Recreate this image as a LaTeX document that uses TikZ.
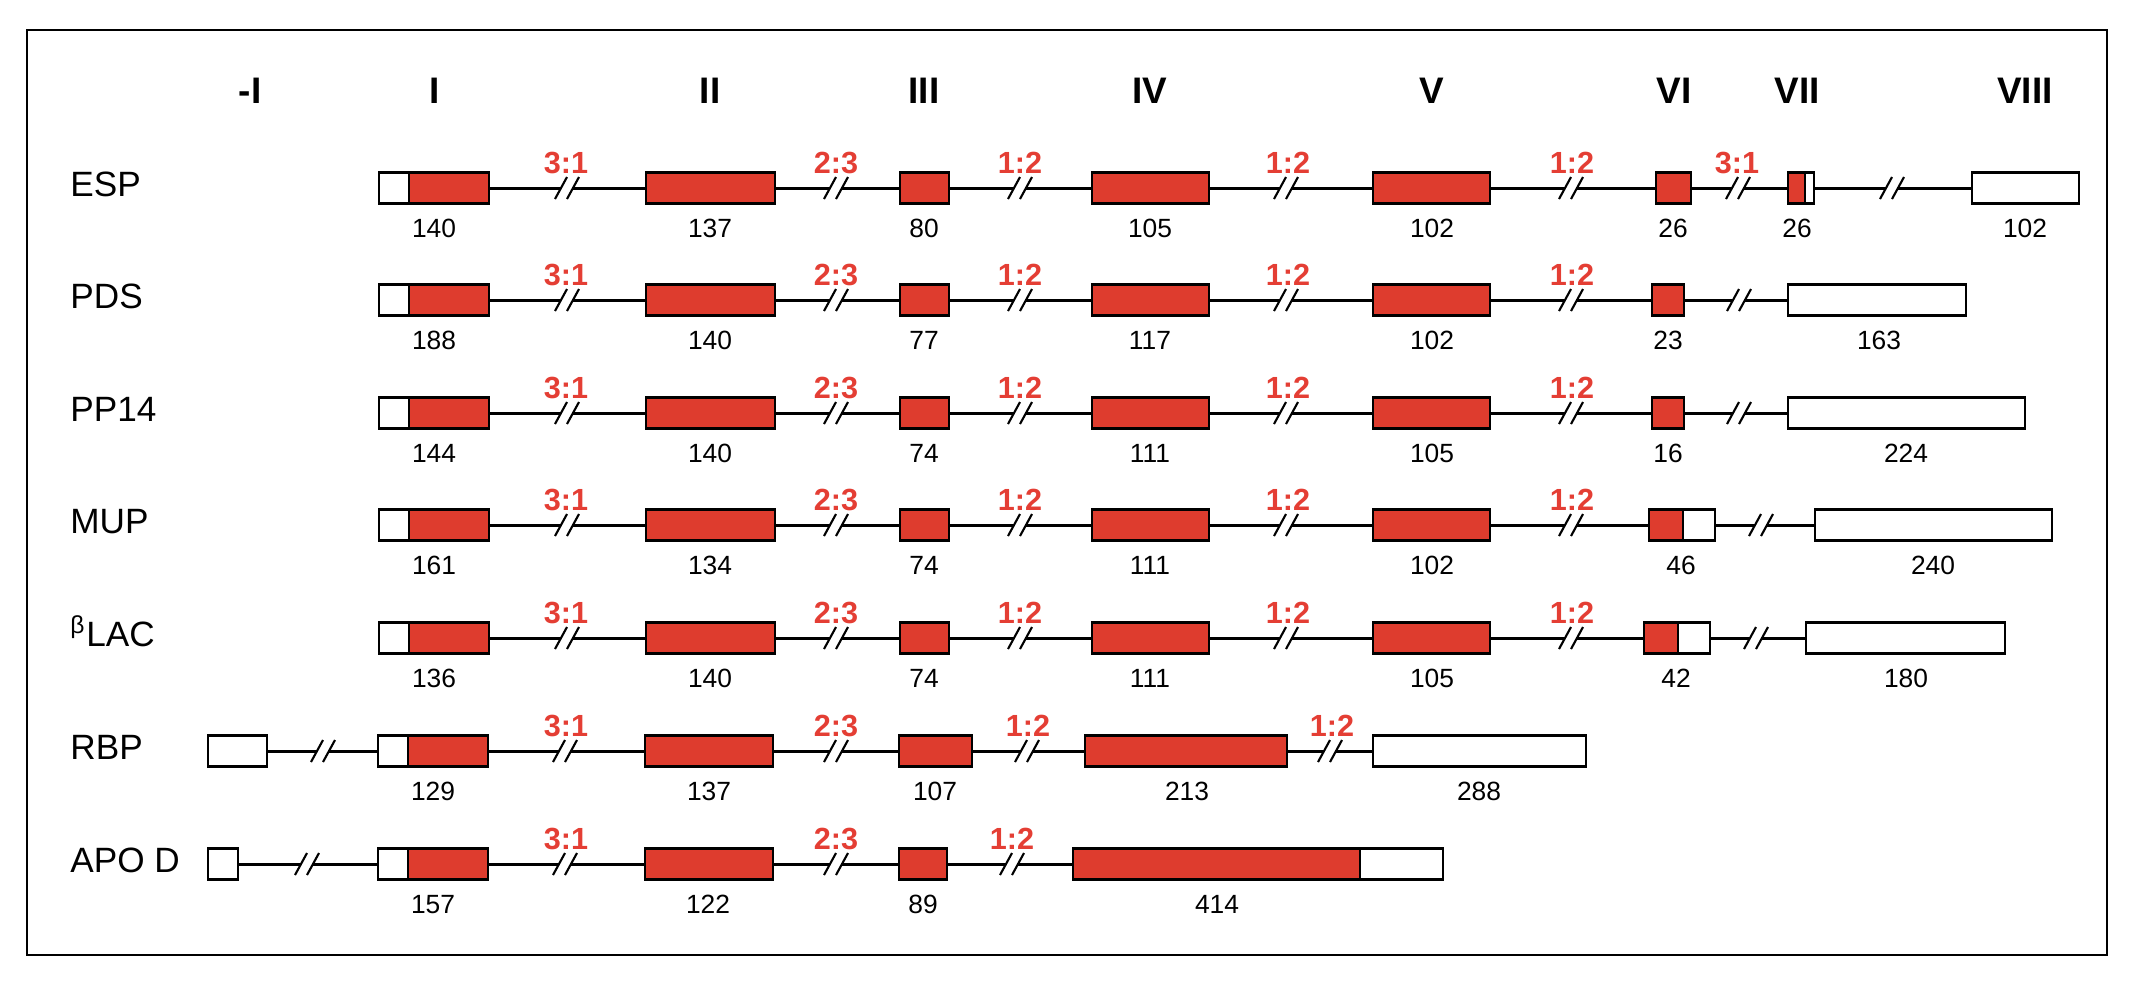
\documentclass[tikz,border=0pt]{standalone}
\usepackage{fontspec}
\setmainfont{Liberation Sans}
\usetikzlibrary{positioning}
\definecolor{exonred}{RGB}{222,60,46}
\definecolor{ratiored}{RGB}{228,62,52}
\begin{document}
\begin{tikzpicture}[x=0.01cm, y=-0.01cm,
  exon/.style={draw, fill=exonred, line width=0.7pt, minimum height=0.31cm, inner sep=0pt, outer sep=0pt},
  utr/.style={exon, fill=white},
  intron/.style={line width=0.85pt},
  gene/.style={anchor=base west, font=\fontsize{10}{12}\selectfont},
  numeral/.style={anchor=base, font=\bfseries\fontsize{10.5}{12}\selectfont},
  ratio/.style={anchor=base, text=ratiored, font=\bfseries\fontsize{8.7}{10}\selectfont},
  bp/.style={anchor=base, font=\fontsize{7.5}{9}\selectfont},
  brk/.pic={
    \fill[white] (-12,11) -- (0,-11) -- (12,-11) -- (0,11) -- cycle;
    \draw[line width=0.6pt] (-12,11) -- (0,-11) (0,11) -- (12,-11);
  }]
\useasboundingbox (0,0) rectangle (2136,996);

% The frame
\draw[line width=0.6pt] (27,30) rectangle (2107,955);

% Exon numbers
\node[numeral] (h0) at (250,103) {-I};
\node[numeral] (h1) at (435,103) {I};
\node[numeral] (h2) at (710,103) {II};
\node[numeral] (h3) at (924,103) {III};
\node[numeral] (h4) at (1150,103) {IV};
\node[numeral] (h5) at (1432,103) {V};
\node[numeral] (h6) at (1674,103) {VI};
\node[numeral] (h7) at (1797,103) {VII};
\node[numeral] (h8) at (2025,103) {VIII};

% ESP
\node[gene] (esp) at (58,196) {ESP};
\node[utr, minimum width=0.30cm] (esp1u) at (394,188) {};
\node[exon, minimum width=0.80cm, right=0pt of esp1u] (esp1) {};
\node[exon, minimum width=1.29cm] (esp2) at (710.5,188) {};
\node[exon, minimum width=0.49cm] (esp3) at (924.5,188) {};
\node[exon, minimum width=1.17cm] (esp4) at (1150.5,188) {};
\node[exon, minimum width=1.17cm] (esp5) at (1431.5,188) {};
\node[exon, minimum width=0.35cm] (esp6) at (1673.5,188) {};
\node[exon, minimum width=0.17cm] (esp7) at (1796.5,188) {};
\node[utr, minimum width=0.09cm, right=0pt of esp7] (esp7u) {};
\node[utr, minimum width=1.07cm] (esp8) at (2025.5,188) {};
\draw[intron] (esp1) -- (esp2) (esp2) -- (esp3) (esp3) -- (esp4) (esp4) -- (esp5)
  (esp5) -- (esp6) (esp6) -- (esp7) (esp7u) -- (esp8);
\pic at (567,188) {brk};
\pic at (836,188) {brk};
\pic at (1020,188) {brk};
\pic at (1286,188) {brk};
\pic at (1571,188) {brk};
\pic at (1738,188) {brk};
\pic at (1892,188) {brk};
\node[ratio] (esp-r1) at (566,173) {3:1};
\node[ratio] (esp-r2) at (836,173) {2:3};
\node[ratio] (esp-r3) at (1020,173) {1:2};
\node[ratio] (esp-r4) at (1288,173) {1:2};
\node[ratio] (esp-r5) at (1572,173) {1:2};
\node[ratio] (esp-r6) at (1737,173) {3:1};
\node[bp] (esp-n1) at (434,237) {140};
\node[bp] (esp-n2) at (710,237) {137};
\node[bp] (esp-n3) at (924,237) {80};
\node[bp] (esp-n4) at (1150,237) {105};
\node[bp] (esp-n5) at (1432,237) {102};
\node[bp] (esp-n6) at (1673,237) {26};
\node[bp] (esp-n7) at (1797,237) {26};
\node[bp] (esp-n8) at (2025,237) {102};

% PDS
\node[gene] (pds) at (58,308) {PDS};
\node[utr, minimum width=0.30cm] (pds1u) at (394,300) {};
\node[exon, minimum width=0.80cm, right=0pt of pds1u] (pds1) {};
\node[exon, minimum width=1.29cm] (pds2) at (710.5,300) {};
\node[exon, minimum width=0.49cm] (pds3) at (924.5,300) {};
\node[exon, minimum width=1.17cm] (pds4) at (1150.5,300) {};
\node[exon, minimum width=1.17cm] (pds5) at (1431.5,300) {};
\node[exon, minimum width=0.32cm] (pds6) at (1668,300) {};
\node[utr, minimum width=1.78cm] (pds7) at (1877,300) {};
\draw[intron] (pds1) -- (pds2) (pds2) -- (pds3) (pds3) -- (pds4) (pds4) -- (pds5)
  (pds5) -- (pds6) (pds6) -- (pds7);
\pic at (567,300) {brk};
\pic at (836,300) {brk};
\pic at (1020,300) {brk};
\pic at (1286,300) {brk};
\pic at (1571,300) {brk};
\pic at (1739,300) {brk};
\node[ratio] (pds-r1) at (566,285) {3:1};
\node[ratio] (pds-r2) at (836,285) {2:3};
\node[ratio] (pds-r3) at (1020,285) {1:2};
\node[ratio] (pds-r4) at (1288,285) {1:2};
\node[ratio] (pds-r5) at (1572,285) {1:2};
\node[bp] (pds-n1) at (434,349) {188};
\node[bp] (pds-n2) at (710,349) {140};
\node[bp] (pds-n3) at (924,349) {77};
\node[bp] (pds-n4) at (1150,349) {117};
\node[bp] (pds-n5) at (1432,349) {102};
\node[bp] (pds-n6) at (1668,349) {23};
\node[bp] (pds-n7) at (1879,349) {163};

% PP14
\node[gene] (pp) at (58,421) {PP14};
\node[utr, minimum width=0.30cm] (pp1u) at (394,413) {};
\node[exon, minimum width=0.80cm, right=0pt of pp1u] (pp1) {};
\node[exon, minimum width=1.29cm] (pp2) at (710.5,413) {};
\node[exon, minimum width=0.49cm] (pp3) at (924.5,413) {};
\node[exon, minimum width=1.17cm] (pp4) at (1150.5,413) {};
\node[exon, minimum width=1.17cm] (pp5) at (1431.5,413) {};
\node[exon, minimum width=0.32cm] (pp6) at (1668,413) {};
\node[utr, minimum width=2.37cm] (pp7) at (1906.5,413) {};
\draw[intron] (pp1) -- (pp2) (pp2) -- (pp3) (pp3) -- (pp4) (pp4) -- (pp5)
  (pp5) -- (pp6) (pp6) -- (pp7);
\pic at (567,413) {brk};
\pic at (836,413) {brk};
\pic at (1020,413) {brk};
\pic at (1286,413) {brk};
\pic at (1571,413) {brk};
\pic at (1739,413) {brk};
\node[ratio] (pp-r1) at (566,398) {3:1};
\node[ratio] (pp-r2) at (836,398) {2:3};
\node[ratio] (pp-r3) at (1020,398) {1:2};
\node[ratio] (pp-r4) at (1288,398) {1:2};
\node[ratio] (pp-r5) at (1572,398) {1:2};
\node[bp] (pp-n1) at (434,462) {144};
\node[bp] (pp-n2) at (710,462) {140};
\node[bp] (pp-n3) at (924,462) {74};
\node[bp] (pp-n4) at (1150,462) {111};
\node[bp] (pp-n5) at (1432,462) {105};
\node[bp] (pp-n6) at (1668,462) {16};
\node[bp] (pp-n7) at (1906,462) {224};

% MUP
\node[gene] (mup) at (58,533) {MUP};
\node[utr, minimum width=0.30cm] (mup1u) at (394,525) {};
\node[exon, minimum width=0.80cm, right=0pt of mup1u] (mup1) {};
\node[exon, minimum width=1.29cm] (mup2) at (710.5,525) {};
\node[exon, minimum width=0.49cm] (mup3) at (924.5,525) {};
\node[exon, minimum width=1.17cm] (mup4) at (1150.5,525) {};
\node[exon, minimum width=1.17cm] (mup5) at (1431.5,525) {};
\node[exon, minimum width=0.34cm] (mup6) at (1666,525) {};
\node[utr, minimum width=0.32cm, right=0pt of mup6] (mup6u) {};
\node[utr, minimum width=2.37cm] (mup7) at (1933.5,525) {};
\draw[intron] (mup1) -- (mup2) (mup2) -- (mup3) (mup3) -- (mup4) (mup4) -- (mup5)
  (mup5) -- (mup6) (mup6u) -- (mup7);
\pic at (567,525) {brk};
\pic at (836,525) {brk};
\pic at (1020,525) {brk};
\pic at (1286,525) {brk};
\pic at (1571,525) {brk};
\pic at (1761,525) {brk};
\node[ratio] (mup-r1) at (566,510) {3:1};
\node[ratio] (mup-r2) at (836,510) {2:3};
\node[ratio] (mup-r3) at (1020,510) {1:2};
\node[ratio] (mup-r4) at (1288,510) {1:2};
\node[ratio] (mup-r5) at (1572,510) {1:2};
\node[bp] (mup-n1) at (434,574) {161};
\node[bp] (mup-n2) at (710,574) {134};
\node[bp] (mup-n3) at (924,574) {74};
\node[bp] (mup-n4) at (1150,574) {111};
\node[bp] (mup-n5) at (1432,574) {102};
\node[bp] (mup-n6) at (1681,574) {46};
\node[bp] (mup-n7) at (1933,574) {240};

% beta LAC
\node[gene] (lac) at (58,646) {\textsuperscript{β}LAC};
\node[utr, minimum width=0.30cm] (lac1u) at (394,638) {};
\node[exon, minimum width=0.80cm, right=0pt of lac1u] (lac1) {};
\node[exon, minimum width=1.29cm] (lac2) at (710.5,638) {};
\node[exon, minimum width=0.49cm] (lac3) at (924.5,638) {};
\node[exon, minimum width=1.17cm] (lac4) at (1150.5,638) {};
\node[exon, minimum width=1.17cm] (lac5) at (1431.5,638) {};
\node[exon, minimum width=0.34cm] (lac6) at (1661,638) {};
\node[utr, minimum width=0.32cm, right=0pt of lac6] (lac6u) {};
\node[utr, minimum width=1.99cm] (lac7) at (1905.5,638) {};
\draw[intron] (lac1) -- (lac2) (lac2) -- (lac3) (lac3) -- (lac4) (lac4) -- (lac5)
  (lac5) -- (lac6) (lac6u) -- (lac7);
\pic at (567,638) {brk};
\pic at (836,638) {brk};
\pic at (1020,638) {brk};
\pic at (1286,638) {brk};
\pic at (1571,638) {brk};
\pic at (1756,638) {brk};
\node[ratio] (lac-r1) at (566,623) {3:1};
\node[ratio] (lac-r2) at (836,623) {2:3};
\node[ratio] (lac-r3) at (1020,623) {1:2};
\node[ratio] (lac-r4) at (1288,623) {1:2};
\node[ratio] (lac-r5) at (1572,623) {1:2};
\node[bp] (lac-n1) at (434,687) {136};
\node[bp] (lac-n2) at (710,687) {140};
\node[bp] (lac-n3) at (924,687) {74};
\node[bp] (lac-n4) at (1150,687) {111};
\node[bp] (lac-n5) at (1432,687) {105};
\node[bp] (lac-n6) at (1676,687) {42};
\node[bp] (lac-n7) at (1906,687) {180};

% RBP
\node[gene] (rbp) at (58,759) {RBP};
\node[utr, minimum width=0.59cm] (rbp0) at (237.5,751) {};
\node[utr, minimum width=0.30cm] (rbp1u) at (393,751) {};
\node[exon, minimum width=0.80cm, right=0pt of rbp1u] (rbp1) {};
\node[exon, minimum width=1.28cm] (rbp2) at (709,751) {};
\node[exon, minimum width=0.73cm] (rbp3) at (935.5,751) {};
\node[exon, minimum width=2.02cm] (rbp4) at (1186,751) {};
\node[utr, minimum width=2.13cm] (rbp5) at (1479.5,751) {};
\draw[intron] (rbp0) -- (rbp1u) (rbp1) -- (rbp2) (rbp2) -- (rbp3) (rbp3) -- (rbp4)
  (rbp4) -- (rbp5);
\pic at (323,751) {brk};
\pic at (565,751) {brk};
\pic at (836,751) {brk};
\pic at (1027,751) {brk};
\pic at (1330,751) {brk};
\node[ratio] (rbp-r1) at (566,736) {3:1};
\node[ratio] (rbp-r2) at (836,736) {2:3};
\node[ratio] (rbp-r3) at (1028,736) {1:2};
\node[ratio] (rbp-r4) at (1332,736) {1:2};
\node[bp] (rbp-n1) at (433,800) {129};
\node[bp] (rbp-n2) at (709,800) {137};
\node[bp] (rbp-n3) at (935,800) {107};
\node[bp] (rbp-n4) at (1187,800) {213};
\node[bp] (rbp-n5) at (1479,800) {288};

% APO D
\node[gene] (apo) at (58,872) {APO D};
\node[utr, minimum width=0.30cm] (apo0) at (223,864) {};
\node[utr, minimum width=0.30cm] (apo1u) at (393,864) {};
\node[exon, minimum width=0.80cm, right=0pt of apo1u] (apo1) {};
\node[exon, minimum width=1.28cm] (apo2) at (709,864) {};
\node[exon, minimum width=0.48cm] (apo3) at (923,864) {};
\node[exon, minimum width=2.87cm] (apo4) at (1216.5,864) {};
\node[utr, minimum width=0.83cm, right=0pt of apo4] (apo4u) {};
\draw[intron] (apo0) -- (apo1u) (apo1) -- (apo2) (apo2) -- (apo3) (apo3) -- (apo4);
\pic at (307,864) {brk};
\pic at (565,864) {brk};
\pic at (836,864) {brk};
\pic at (1012,864) {brk};
\node[ratio] (apo-r1) at (566,849) {3:1};
\node[ratio] (apo-r2) at (836,849) {2:3};
\node[ratio] (apo-r3) at (1012,849) {1:2};
\node[bp] (apo-n1) at (433,913) {157};
\node[bp] (apo-n2) at (708,913) {122};
\node[bp] (apo-n3) at (923,913) {89};
\node[bp] (apo-n4) at (1217,913) {414};

\end{tikzpicture}
\end{document}
